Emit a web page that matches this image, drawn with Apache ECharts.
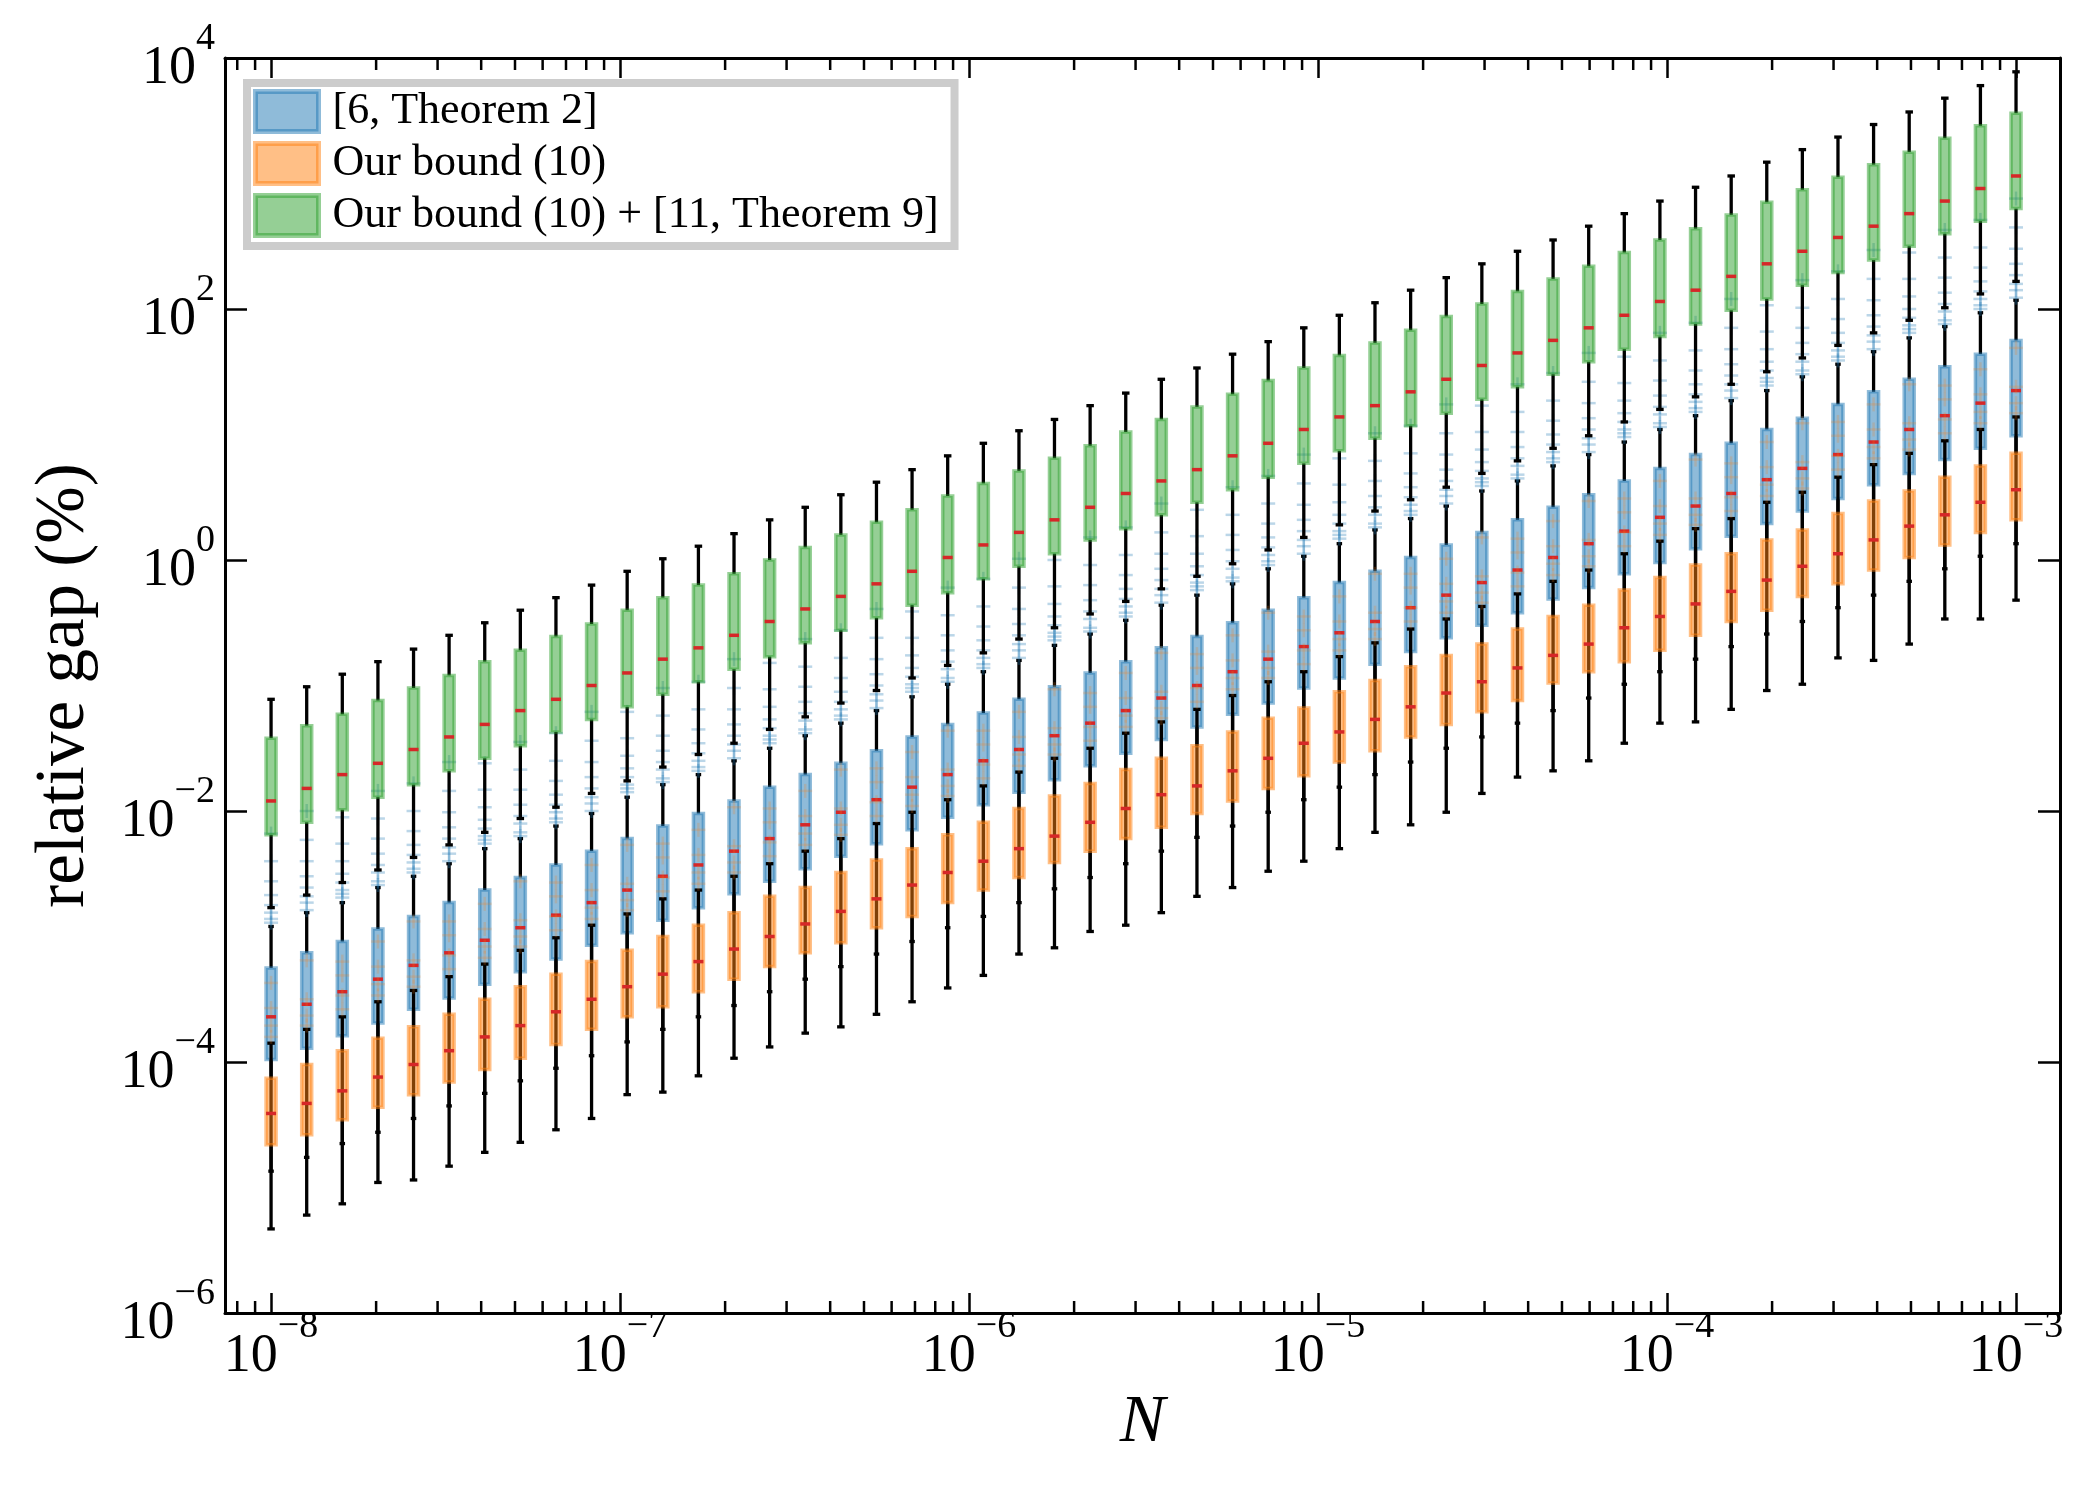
<!DOCTYPE html>
<html>
<head>
<meta charset="utf-8">
<title>relative gap vs N</title>
<script src="https://cdn.jsdelivr.net/npm/echarts@6/dist/echarts.min.js"></script>
<style>
  html, body { margin: 0; padding: 0; background: #fff; }
  #chart { width: 2100px; height: 1500px; }
</style>
</head>
<body>
<div id="chart"></div>
<script>
// N values (50 points, 1e-8 .. 1e-3)
const nValues = [
  1.000e-8, 1.265e-8, 1.600e-8, 2.024e-8, 2.560e-8, 3.237e-8, 4.095e-8, 5.179e-8, 6.551e-8, 8.286e-8,
  1.048e-7, 1.326e-7, 1.677e-7, 2.121e-7, 2.683e-7, 3.393e-7, 4.292e-7, 5.429e-7, 6.866e-7, 8.685e-7,
  1.099e-6, 1.390e-6, 1.757e-6, 2.223e-6, 2.812e-6, 3.556e-6, 4.498e-6, 5.690e-6, 7.197e-6, 9.103e-6,
  1.151e-5, 1.456e-5, 1.842e-5, 2.330e-5, 2.947e-5, 3.728e-5, 4.715e-5, 5.964e-5, 7.543e-5, 9.541e-5,
  1.207e-4, 1.527e-4, 1.931e-4, 2.442e-4, 3.089e-4, 3.907e-4, 4.942e-4, 6.251e-4, 7.906e-4, 1.000e-3
];

// box statistics, stored as log10 of relative gap (%)
// [6, Theorem 2]
const blueHi = [-2.92,-2.81,-2.73,-2.61,-2.52,-2.42,-2.30,-2.22,-2.12,-2.02, -1.89,-1.79,-1.71,-1.60,-1.50,-1.40,-1.30,-1.20,-1.09,-0.99, -0.89,-0.80,-0.68,-0.59,-0.48,-0.36,-0.28,-0.19,-0.07,0.03, 0.13,0.24,0.33,0.43,0.55,0.63,0.75,0.84,0.94,1.04, 1.15,1.27,1.35,1.46,1.56,1.66,1.77,1.86,1.97,2.07];
const blueQ3 = [-3.25,-3.13,-3.04,-2.94,-2.84,-2.73,-2.63,-2.53,-2.43,-2.32, -2.22,-2.12,-2.02,-1.92,-1.81,-1.71,-1.62,-1.52,-1.41,-1.31, -1.22,-1.11,-1.01,-0.90,-0.81,-0.70,-0.61,-0.50,-0.40,-0.30, -0.18,-0.09,0.02,0.12,0.22,0.32,0.42,0.52,0.63,0.73, 0.84,0.93,1.04,1.13,1.24,1.34,1.44,1.54,1.64,1.75];
const blueMed = [-3.64,-3.54,-3.44,-3.34,-3.23,-3.13,-3.03,-2.93,-2.83,-2.73, -2.63,-2.52,-2.43,-2.32,-2.22,-2.11,-2.01,-1.91,-1.81,-1.71, -1.60,-1.51,-1.40,-1.30,-1.20,-1.10,-1.00,-0.89,-0.79,-0.69, -0.58,-0.49,-0.38,-0.28,-0.18,-0.08,0.02,0.13,0.23,0.34, 0.43,0.53,0.64,0.73,0.84,0.94,1.04,1.15,1.25,1.35];
const blueQ1 = [-3.98,-3.89,-3.79,-3.69,-3.58,-3.49,-3.38,-3.28,-3.18,-3.07, -2.97,-2.87,-2.77,-2.66,-2.56,-2.46,-2.36,-2.26,-2.15,-2.05, -1.95,-1.85,-1.75,-1.64,-1.54,-1.43,-1.33,-1.23,-1.14,-1.02, -0.94,-0.83,-0.73,-0.62,-0.52,-0.42,-0.31,-0.22,-0.11,-0.02, 0.09,0.19,0.29,0.39,0.49,0.60,0.69,0.80,0.89,0.99];
const blueLo = [-4.87,-4.76,-4.65,-4.56,-4.45,-4.35,-4.25,-4.15,-4.05,-3.95, -3.84,-3.74,-3.64,-3.55,-3.44,-3.34,-3.24,-3.14,-3.04,-2.93, -2.84,-2.73,-2.62,-2.53,-2.42,-2.32,-2.21,-2.12,-2.01,-1.91, -1.81,-1.71,-1.61,-1.50,-1.41,-1.30,-1.20,-1.10,-0.99,-0.89, -0.79,-0.69,-0.59,-0.49,-0.38,-0.28,-0.17,-0.07,0.03,0.13];

// Our bound (10)
const orangeHi = [-3.85,-3.74,-3.64,-3.52,-3.43,-3.32,-3.22,-3.11,-3.01,-2.91, -2.82,-2.70,-2.63,-2.52,-2.42,-2.32,-2.22,-2.10,-2.01,-1.91, -1.80,-1.69,-1.58,-1.50,-1.38,-1.29,-1.19,-1.08,-0.97,-0.89, -0.77,-0.66,-0.55,-0.47,-0.37,-0.27,-0.17,-0.08,0.05,0.15, 0.25,0.33,0.46,0.54,0.66,0.76,0.85,0.95,1.04,1.14];
const orangeQ3 = [-4.13,-4.02,-3.91,-3.81,-3.72,-3.62,-3.50,-3.40,-3.30,-3.20, -3.11,-3.00,-2.91,-2.81,-2.68,-2.61,-2.49,-2.39,-2.30,-2.19, -2.09,-1.98,-1.88,-1.78,-1.67,-1.58,-1.48,-1.37,-1.26,-1.18, -1.05,-0.96,-0.85,-0.76,-0.67,-0.55,-0.45,-0.36,-0.24,-0.14, -0.04,0.05,0.16,0.24,0.37,0.47,0.55,0.66,0.75,0.85];
const orangeMed = [-4.41,-4.33,-4.23,-4.12,-4.02,-3.91,-3.80,-3.71,-3.60,-3.50, -3.40,-3.30,-3.20,-3.10,-3.00,-2.90,-2.80,-2.70,-2.59,-2.49, -2.40,-2.30,-2.20,-2.09,-1.98,-1.87,-1.80,-1.68,-1.58,-1.46, -1.37,-1.27,-1.17,-1.06,-0.97,-0.86,-0.76,-0.67,-0.54,-0.45, -0.35,-0.25,-0.16,-0.05,0.05,0.16,0.27,0.36,0.46,0.56];
const orangeQ1 = [-4.66,-4.58,-4.46,-4.36,-4.26,-4.16,-4.06,-3.97,-3.86,-3.74, -3.64,-3.56,-3.44,-3.34,-3.24,-3.13,-3.05,-2.93,-2.84,-2.73, -2.63,-2.53,-2.41,-2.32,-2.22,-2.13,-2.02,-1.92,-1.82,-1.72, -1.61,-1.52,-1.41,-1.31,-1.21,-1.12,-0.98,-0.89,-0.81,-0.72, -0.60,-0.49,-0.40,-0.29,-0.19,-0.08,0.02,0.12,0.22,0.32];
const orangeLo = [-5.33,-5.22,-5.13,-4.96,-4.94,-4.83,-4.72,-4.64,-4.54,-4.45, -4.26,-4.24,-4.11,-3.97,-3.88,-3.77,-3.72,-3.62,-3.52,-3.41, -3.31,-3.14,-3.09,-2.96,-2.91,-2.81,-2.68,-2.61,-2.48,-2.40, -2.30,-2.17,-2.11,-2.01,-1.86,-1.73,-1.68,-1.60,-1.46,-1.30, -1.29,-1.19,-1.04,-0.99,-0.78,-0.80,-0.67,-0.47,-0.47,-0.32];

// Our bound (10) + [11, Theorem 9]
const greenHi = [-1.11,-1.01,-0.91,-0.81,-0.71,-0.60,-0.50,-0.40,-0.30,-0.20, -0.09,0.01,0.11,0.21,0.32,0.42,0.52,0.62,0.72,0.83, 0.93,1.03,1.12,1.23,1.33,1.44,1.53,1.64,1.74,1.85, 1.95,2.05,2.15,2.25,2.36,2.46,2.55,2.66,2.76,2.86, 2.97,3.06,3.17,3.27,3.37,3.47,3.57,3.68,3.78,3.89];
const greenQ3 = [-1.42,-1.32,-1.23,-1.12,-1.02,-0.92,-0.81,-0.72,-0.61,-0.51, -0.40,-0.30,-0.20,-0.11,0.00,0.10,0.20,0.30,0.40,0.51, 0.61,0.71,0.81,0.91,1.02,1.12,1.22,1.32,1.43,1.53, 1.63,1.73,1.83,1.94,2.04,2.14,2.24,2.34,2.45,2.55, 2.64,2.75,2.85,2.95,3.05,3.15,3.25,3.36,3.46,3.56];
const greenMed = [-1.92,-1.82,-1.71,-1.62,-1.51,-1.41,-1.31,-1.20,-1.11,-1.00, -0.90,-0.79,-0.70,-0.60,-0.49,-0.39,-0.29,-0.19,-0.09,0.02, 0.12,0.22,0.32,0.42,0.53,0.63,0.72,0.83,0.93,1.04, 1.14,1.23,1.34,1.44,1.55,1.65,1.75,1.85,1.95,2.06, 2.15,2.26,2.36,2.46,2.57,2.66,2.76,2.86,2.96,3.06];
const greenQ1 = [-2.19,-2.09,-1.99,-1.89,-1.79,-1.68,-1.58,-1.48,-1.37,-1.27, -1.17,-1.07,-0.97,-0.87,-0.77,-0.66,-0.56,-0.46,-0.36,-0.26, -0.15,-0.05,0.05,0.16,0.25,0.36,0.46,0.56,0.66,0.77, 0.87,0.97,1.07,1.17,1.28,1.38,1.48,1.58,1.68,1.78, 1.88,1.99,2.08,2.19,2.29,2.39,2.50,2.60,2.70,2.80];
const greenLo = [-2.77,-2.67,-2.57,-2.47,-2.37,-2.27,-2.17,-2.06,-1.97,-1.86, -1.76,-1.65,-1.55,-1.46,-1.35,-1.25,-1.14,-1.04,-0.94,-0.84, -0.74,-0.63,-0.54,-0.43,-0.33,-0.23,-0.13,-0.03,0.08,0.18, 0.28,0.39,0.48,0.58,0.69,0.79,0.89,0.99,1.10,1.20, 1.30,1.40,1.50,1.61,1.71,1.81,1.91,2.01,2.12,2.22];

// outliers (log10), one list per N
const blueFliers = [
  [-2.89,-2.86,-2.81,-2.75,-2.67,-2.56,-2.40,-2.18], [-2.79,-2.73,-2.68,-2.61,-2.52,-2.40,-2.23,-2.00],
  [-2.69,-2.66,-2.63,-2.57,-2.50,-2.40,-2.26,-2.05], [-2.59,-2.56,-2.49,-2.43,-2.34,-2.22,-2.06,-1.84],
  [-2.49,-2.46,-2.41,-2.35,-2.27,-2.16,-2.00,-1.78], [-2.40,-2.34,-2.29,-2.22,-2.13,-2.01,-1.84,-1.61],
  [-2.26,-2.23,-2.20,-2.14,-2.07,-1.97,-1.83,-1.62], [-2.20,-2.17,-2.10,-2.04,-1.95,-1.83,-1.67,-1.45],
  [-2.09,-2.06,-2.01,-1.95,-1.87,-1.76,-1.60,-1.38], [-2.00,-1.94,-1.89,-1.82,-1.73,-1.61,-1.44,-1.21],
  [-1.85,-1.82,-1.79,-1.73,-1.66,-1.56,-1.42,-1.21], [-1.77,-1.74,-1.67,-1.61,-1.52,-1.40,-1.24,-1.02],
  [-1.68,-1.65,-1.60,-1.54,-1.46,-1.35,-1.19,-0.97], [-1.58,-1.52,-1.47,-1.40,-1.31,-1.19,-1.02,-0.79],
  [-1.46,-1.43,-1.40,-1.34,-1.27,-1.17,-1.03,-0.82], [-1.38,-1.35,-1.28,-1.22,-1.13,-1.01,-0.85,-0.63],
  [-1.27,-1.24,-1.19,-1.13,-1.05,-0.94,-0.78,-0.56], [-1.18,-1.12,-1.07,-1.00,-0.91,-0.79,-0.62,-0.39],
  [-1.05,-1.02,-0.99,-0.93,-0.86,-0.76,-0.62,-0.41], [-0.97,-0.94,-0.87,-0.81,-0.72,-0.60,-0.44,-0.22],
  [-0.86,-0.83,-0.78,-0.72,-0.64,-0.53,-0.37,-0.15], [-0.78,-0.72,-0.67,-0.60,-0.51,-0.39,-0.22,0.01],
  [-0.64,-0.61,-0.58,-0.52,-0.45,-0.35,-0.21,0.00], [-0.57,-0.54,-0.47,-0.41,-0.32,-0.20,-0.04,0.18],
  [-0.45,-0.42,-0.37,-0.31,-0.23,-0.12,0.04,0.26], [-0.34,-0.28,-0.23,-0.16,-0.07,0.05,0.22,0.45],
  [-0.24,-0.21,-0.18,-0.12,-0.05,0.05,0.19,0.40], [-0.17,-0.14,-0.07,-0.01,0.08,0.20,0.36,0.58],
  [-0.04,-0.01,0.04,0.10,0.18,0.29,0.45,0.67], [0.05,0.11,0.16,0.23,0.32,0.44,0.61,0.84],
  [0.17,0.20,0.23,0.29,0.36,0.46,0.60,0.81], [0.26,0.29,0.36,0.42,0.51,0.63,0.79,1.01],
  [0.36,0.39,0.44,0.50,0.58,0.69,0.85,1.07], [0.45,0.51,0.56,0.63,0.72,0.84,1.01,1.24],
  [0.59,0.62,0.65,0.71,0.78,0.88,1.02,1.23], [0.65,0.68,0.75,0.81,0.90,1.02,1.18,1.40],
  [0.78,0.81,0.86,0.92,1.00,1.11,1.27,1.49], [0.86,0.92,0.97,1.04,1.13,1.25,1.42,1.65],
  [0.98,1.01,1.04,1.10,1.17,1.27,1.41,1.62], [1.06,1.09,1.16,1.22,1.31,1.43,1.59,1.81],
  [1.18,1.21,1.26,1.32,1.40,1.51,1.67,1.89], [1.29,1.35,1.40,1.47,1.56,1.68,1.85,2.08],
  [1.39,1.42,1.45,1.51,1.58,1.68,1.82,2.03], [1.48,1.51,1.58,1.64,1.73,1.85,2.01,2.23],
  [1.59,1.62,1.67,1.73,1.81,1.92,2.08,2.30], [1.68,1.74,1.79,1.86,1.95,2.07,2.24,2.47],
  [1.81,1.84,1.87,1.93,2.00,2.10,2.24,2.45], [1.88,1.91,1.98,2.04,2.13,2.25,2.41,2.63],
  [2.00,2.03,2.08,2.14,2.22,2.33,2.49,2.71], [2.09,2.15,2.20,2.27,2.36,2.48,2.65,2.88]
];
const orangeFliers = [
  [-3.80,-3.71,-3.57,-3.37], [-3.71,-3.63,-3.50,-3.19], [-3.58,-3.47,-3.31,-3.20], [-3.47,-3.38,-3.24,-3.04],
  [-3.40,-3.32,-3.19,-2.88], [-3.26,-3.15,-2.99,-2.88], [-3.17,-3.08,-2.94,-2.74], [-3.08,-3.00,-2.87,-2.56],
  [-2.95,-2.84,-2.68,-2.57], [-2.86,-2.77,-2.63,-2.43], [-2.79,-2.71,-2.58,-2.27], [-2.64,-2.53,-2.37,-2.26],
  [-2.58,-2.49,-2.35,-2.15], [-2.49,-2.41,-2.28,-1.97], [-2.36,-2.25,-2.09,-1.98], [-2.27,-2.18,-2.04,-1.84],
  [-2.19,-2.11,-1.98,-1.67], [-2.04,-1.93,-1.77,-1.66], [-1.96,-1.87,-1.73,-1.53], [-1.88,-1.80,-1.67,-1.36],
  [-1.74,-1.63,-1.47,-1.36], [-1.64,-1.55,-1.41,-1.21], [-1.55,-1.47,-1.34,-1.03], [-1.44,-1.33,-1.17,-1.06],
  [-1.33,-1.24,-1.10,-0.90], [-1.26,-1.18,-1.05,-0.74], [-1.13,-1.02,-0.86,-0.75], [-1.03,-0.94,-0.80,-0.60],
  [-0.94,-0.86,-0.73,-0.42], [-0.83,-0.72,-0.56,-0.45], [-0.72,-0.63,-0.49,-0.29], [-0.63,-0.55,-0.42,-0.11],
  [-0.49,-0.38,-0.22,-0.11], [-0.42,-0.33,-0.19,0.01], [-0.34,-0.26,-0.13,0.18], [-0.21,-0.10,0.06,0.17],
  [-0.12,-0.03,0.11,0.31], [-0.05,0.03,0.16,0.47], [0.11,0.22,0.38,0.49], [0.20,0.29,0.43,0.63],
  [0.28,0.36,0.49,0.80], [0.39,0.50,0.66,0.77], [0.51,0.60,0.74,0.94], [0.57,0.65,0.78,1.09],
  [0.72,0.83,0.99,1.10], [0.81,0.90,1.04,1.24], [0.88,0.96,1.09,1.40], [1.01,1.12,1.28,1.39],
  [1.09,1.18,1.32,1.52], [1.17,1.25,1.38,1.69]
];
const greenFliers = nValues.map(() => []);

// minor ticks on the N axis
const minorMantissas = [2, 3, 4, 5, 6, 7, 8, 9];
const minorDecades = [1e-9, 1e-8, 1e-7, 1e-6, 1e-5, 1e-4];

const seriesNames = ['[6, Theorem 2]', 'Our bound (10)', 'Our bound (10) + [11, Theorem 9]'];

const FONT = "'Liberation Serif', 'Times New Roman', serif";
const xMin = Math.pow(10, -8.132);
const xMax = Math.pow(10, -2.874);

const looks = {
  blue:   { fill: 'rgba(31,119,180,0.5)', edge: 'rgba(31,119,180,0.5)', flier: 'rgba(31,119,180,0.3)', cap: 5.5 },
  orange: { fill: 'rgba(255,127,14,0.5)', edge: 'rgba(255,127,14,0.5)', flier: 'rgba(255,127,14,0.2)', cap: 7.5 },
  green:  { fill: 'rgba(44,160,44,0.5)',  edge: 'rgba(44,160,44,0.5)',  flier: 'rgba(44,160,44,0.2)', cap: 7.5 }
};

function boxSeries(name, lo, q1, med, q3, hi, fliers, look) {
  const data = nValues.map((n, i) => [n,
    Math.pow(10, lo[i]), Math.pow(10, q1[i]), Math.pow(10, med[i]),
    Math.pow(10, q3[i]), Math.pow(10, hi[i])]);
  return {
    name: name,
    type: 'custom',
    xAxisIndex: 0,
    yAxisIndex: 0,
    encode: { x: 0, y: [1, 2, 3, 4, 5] },
    data: data,
    itemStyle: { color: look.fill, borderColor: look.edge },
    renderItem: function (params, api) {
      const n = api.value(0);
      const yOf = v => api.coord([n, v])[1];
      const cx = api.coord([n, api.value(3)])[0];
      const yLo = yOf(api.value(1)), yQ1 = yOf(api.value(2)), yMed = yOf(api.value(3));
      const yQ3 = yOf(api.value(4)), yHi = yOf(api.value(5));
      const black = { stroke: '#000', lineWidth: 3.3 };
      const c = look.cap / 2;
      const kids = [
        { type: 'line', shape: { x1: cx, y1: yQ1, x2: cx, y2: yLo }, style: black },
        { type: 'line', shape: { x1: cx, y1: yQ3, x2: cx, y2: yHi }, style: black },
        { type: 'line', shape: { x1: cx - c, y1: yLo, x2: cx + c, y2: yLo }, style: black },
        { type: 'line', shape: { x1: cx - c, y1: yHi, x2: cx + c, y2: yHi }, style: black },
        { type: 'rect', shape: { x: cx - 5, y: yQ3, width: 10, height: yQ1 - yQ3 },
          style: { fill: look.fill, stroke: look.edge, lineWidth: 3.5 } },
        { type: 'line', shape: { x1: cx - 5, y1: yMed, x2: cx + 5, y2: yMed },
          style: { stroke: '#d62728', lineWidth: 3.5 } }
      ];
      fliers[params.dataIndex].forEach(e => {
        const y = yOf(Math.pow(10, e));
        kids.push({ type: 'line', shape: { x1: cx - 7, y1: y, x2: cx + 7, y2: y },
          style: { stroke: look.flier, lineWidth: 2.5 } });
        kids.push({ type: 'line', shape: { x1: cx, y1: y - 7, x2: cx, y2: y + 7 },
          style: { stroke: look.flier, lineWidth: 2.5 } });
      });
      return { type: 'group', children: kids };
    }
  };
}

const minorTickData = [];
minorDecades.forEach(d => minorMantissas.forEach(m => {
  const v = m * d;
  if (v > xMin && v < xMax) minorTickData.push([v, 1]);
}));

function powLabel(v) {
  const e = Math.log10(v);
  const k = Math.round(e);
  if (Math.abs(e - k) > 1e-3) return '';
  return '{b|10}{s|' + (k < 0 ? '\u2212' + (-k) : String(k)) + '}';
}
const labelRich = {
  b: { fontFamily: FONT, fontSize: 54, color: '#000', verticalAlign: 'bottom', lineHeight: 76 },
  s: { fontFamily: FONT, fontSize: 38, color: '#000', verticalAlign: 'top', lineHeight: 24 }
};

const axisLine = { show: true, onZero: false, lineStyle: { color: '#000', width: 3 } };

const chart = echarts.init(document.getElementById('chart'), null, { renderer: 'canvas' });
chart.setOption({
  animation: false,
  backgroundColor: '#ffffff',
  grid: { left: 225, right: 40, top: 58, bottom: 187, containLabel: false },
  legend: {
    orient: 'vertical',
    left: 247, top: 83,
    itemWidth: 63, itemHeight: 40, itemGap: 7,
    padding: [6, 16, 8, 6],
    backgroundColor: '#ffffff',
    borderColor: '#cccccc', borderWidth: 8, borderRadius: 0,
    selectedMode: false,
    textStyle: { fontFamily: FONT, fontSize: 44, color: '#000', lineHeight: 40, padding: [0, 0, 0, 9] },
    data: [
      { name: seriesNames[0], icon: 'rect', itemStyle: { color: looks.blue.fill, borderColor: looks.blue.edge, borderWidth: 5 } },
      { name: seriesNames[1], icon: 'rect', itemStyle: { color: looks.orange.fill, borderColor: looks.orange.edge, borderWidth: 5 } },
      { name: seriesNames[2], icon: 'rect', itemStyle: { color: looks.green.fill, borderColor: looks.green.edge, borderWidth: 5 } }
    ]
  },
  xAxis: [
    {
      type: 'log', logBase: 10, min: xMin, max: xMax, position: 'bottom',
      name: 'N', nameLocation: 'middle', nameGap: 62,
      nameTextStyle: { fontFamily: FONT, fontSize: 68, fontStyle: 'italic', color: '#000' },
      axisLine: axisLine,
      axisTick: { show: true, inside: true, length: 20, lineStyle: { color: '#000', width: 2.5 } },
      axisLabel: { show: true, margin: -5, formatter: powLabel, rich: labelRich },
      splitLine: { show: false }, minorTick: { show: false }
    },
    {
      type: 'log', logBase: 10, min: xMin, max: xMax, position: 'top',
      axisLine: axisLine,
      axisTick: { show: true, inside: true, length: 20, lineStyle: { color: '#000', width: 2.5 } },
      axisLabel: { show: false }, splitLine: { show: false }
    }
  ],
  yAxis: [
    {
      type: 'log', logBase: 10, min: 1e-6, max: 1e4, interval: 2, position: 'left',
      name: 'relative gap (%)', nameLocation: 'middle', nameGap: 126,
      nameTextStyle: { fontFamily: FONT, fontSize: 69, color: '#000' },
      axisLine: axisLine,
      axisTick: { show: true, inside: true, length: 22, lineStyle: { color: '#000', width: 2.5 } },
      axisLabel: { show: true, margin: 10, formatter: powLabel, rich: labelRich },
      splitLine: { show: false }
    },
    {
      type: 'log', logBase: 10, min: 1e-6, max: 1e4, interval: 2, position: 'right',
      axisLine: axisLine,
      axisTick: { show: true, inside: true, length: 22, lineStyle: { color: '#000', width: 2.5 } },
      axisLabel: { show: false }, splitLine: { show: false }
    }
  ],
  series: [
    boxSeries(seriesNames[0], blueLo, blueQ1, blueMed, blueQ3, blueHi, blueFliers, looks.blue),
    boxSeries(seriesNames[1], orangeLo, orangeQ1, orangeMed, orangeQ3, orangeHi, orangeFliers, looks.orange),
    boxSeries(seriesNames[2], greenLo, greenQ1, greenMed, greenQ3, greenHi, greenFliers, looks.green),
    {
      name: 'minor ticks',
      type: 'custom',
      silent: true,
      clip: false,
      xAxisIndex: 0, yAxisIndex: 0,
      encode: { x: 0, y: 1 },
      data: minorTickData,
      renderItem: function (params, api) {
        const x = api.coord([api.value(0), 1])[0];
        const top = params.coordSys.y;
        const bottom = params.coordSys.y + params.coordSys.height;
        const st = { stroke: '#000', lineWidth: 2.5 };
        return {
          type: 'group',
          children: [
            { type: 'line', shape: { x1: x, y1: bottom, x2: x, y2: bottom - 12 }, style: st },
            { type: 'line', shape: { x1: x, y1: top, x2: x, y2: top + 12 }, style: st }
          ]
        };
      }
    }
  ]
});
</script>
</body>
</html>
